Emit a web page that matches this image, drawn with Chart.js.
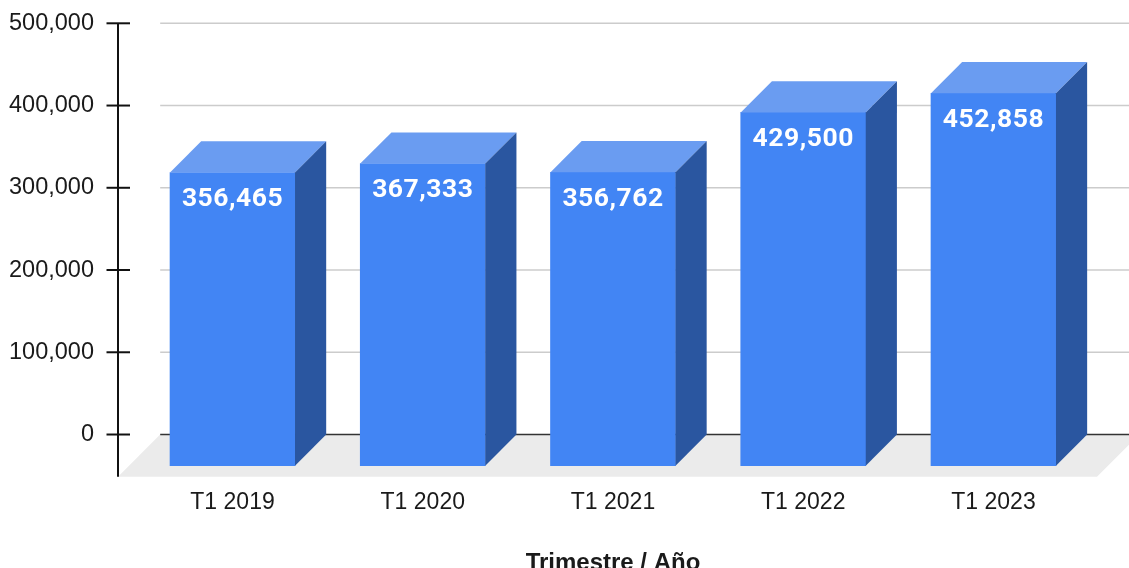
<!DOCTYPE html>
<html>
<head>
<meta charset="utf-8">
<script src="https://cdn.jsdelivr.net/npm/chart.js@4.4.0/dist/chart.umd.min.js"></script>
<style>
    html, body { margin: 0; padding: 0; background: #fff; width: 1129px; height: 568px; overflow: hidden; }
    #wrap { position: relative; width: 1129px; height: 600px; }
</style>
</head>
<body>
<div id="wrap"><canvas id="myChart"></canvas></div>
<script>
/* data */
const labels = ["T1 2019", "T1 2020", "T1 2021", "T1 2022", "T1 2023"];
const values = [356465, 367333, 356762, 429500, 452858];
const yTicks = [0, 100000, 200000, 300000, 400000, 500000];
const axisTitle = "Trimestre / Año";

/* 3d look */
const WALL_MIN = -51300;
const WALL_MAX = 500000;
const BAR_DEPTH = 37900; // box depth, in axis units
const AXIS_X = 118;
const FLOOR_RIGHT = 1097;
const FONT = "'Liberation Sans', Arial, sans-serif";

const frame3d = {
    id: "frame3d",
    beforeDatasetsDraw(chart) {
        const ctx = chart.ctx;
        const area = chart.chartArea;
        const yw = chart.scales.y;
        const y0 = yw.getPixelForValue(0);
        const floor = area.bottom - y0;
        const wallLeft = AXIS_X + floor;
        ctx.save();
        // floor
        ctx.fillStyle = "#ebebeb";
        ctx.beginPath();
        ctx.moveTo(AXIS_X, area.bottom);
        ctx.lineTo(FLOOR_RIGHT, area.bottom);
        ctx.lineTo(FLOOR_RIGHT + floor, y0);
        ctx.lineTo(wallLeft, y0);
        ctx.closePath();
        ctx.fill();
        // grid on the back wall + tick marks
        yTicks.forEach((v) => {
            const y = yw.getPixelForValue(v);
            ctx.strokeStyle = v === 0 ? "#333" : "#ccc";
            ctx.lineWidth = 1.5;
            ctx.beginPath();
            ctx.moveTo(wallLeft, y);
            ctx.lineTo(chart.width, y);
            ctx.stroke();
            ctx.strokeStyle = "#111";
            ctx.lineWidth = 2;
            ctx.beginPath();
            ctx.moveTo(AXIS_X - 11.5, y);
            ctx.lineTo(AXIS_X + 12, y);
            ctx.stroke();
        });
        // axis line
        ctx.beginPath();
        ctx.moveTo(AXIS_X, area.top);
        ctx.lineTo(AXIS_X, area.bottom);
        ctx.stroke();
        ctx.restore();
    },
    afterDatasetsDraw(chart) {
        const ctx = chart.ctx;
        const d = chart.scales.yFront.getPixelForValue(0) - chart.scales.y.getPixelForValue(0);
        const meta = chart.getDatasetMeta(0);
        ctx.save();
        meta.data.forEach((bar, i) => {
            const p = bar.getProps(["x", "y", "base", "width"], true);
            const l = p.x - p.width / 2;
            const r = p.x + p.width / 2;
            // top
            ctx.fillStyle = "#6a9cf1";
            ctx.beginPath();
            ctx.moveTo(l, p.y);
            ctx.lineTo(r, p.y);
            ctx.lineTo(r + d, p.y - d);
            ctx.lineTo(l + d, p.y - d);
            ctx.closePath();
            ctx.fill();
            // side
            ctx.fillStyle = "#2a56a0";
            ctx.beginPath();
            ctx.moveTo(r, p.y);
            ctx.lineTo(r + d, p.y - d);
            ctx.lineTo(r + d, p.base - d);
            ctx.lineTo(r, p.base);
            ctx.closePath();
            ctx.fill();
            // value
            ctx.fillStyle = "#fff";
            ctx.font = "bold 26.5px Roboto, 'Noto Sans', sans-serif";
            ctx.letterSpacing = "0.5px";
            ctx.textAlign = "center";
            ctx.textBaseline = "alphabetic";
            ctx.fillText(values[i].toLocaleString("en-US"), p.x, p.y + 33.5);
        });
        ctx.restore();
    },
};

const data = {
    labels: labels,
    datasets: [
        {
            data: values,
            yAxisID: "yFront",
            backgroundColor: "#4285f4",
            borderWidth: 0,
            barThickness: 125,
        },
    ],
};

const config = {
    type: "bar",
    data: data,
    options: {
        responsive: true,
        maintainAspectRatio: false,
        animation: false,
        devicePixelRatio: 1,
        layout: { padding: { top: 23.3, right: 40.4, left: 0, bottom: 0 } },
        plugins: {
            legend: { display: false },
            tooltip: { enabled: false },
        },
        scales: {
            x: {
                grid: { display: false, drawTicks: false },
                border: { display: false },
                ticks: { color: "#1a1a1a", font: { family: FONT, size: 23 }, padding: 12 },
                title: {
                    display: true,
                    text: axisTitle,
                    color: "#1a1a1a",
                    font: { family: FONT, size: 24, weight: "bold" },
                    padding: { top: 0, bottom: 22 },
                },
                afterFit(scale) {
                    scale.height = 123.3;
                },
            },
            y: {
                position: "left",
                min: WALL_MIN,
                max: WALL_MAX,
                grid: { display: false, drawTicks: false },
                border: { display: false },
                ticks: {
                    color: "#1a1a1a",
                    font: { family: FONT, size: 23.5 },
                    padding: 43.4,
                    callback: (v) => Number(v).toLocaleString("en-US"),
                },
                afterBuildTicks(scale) {
                    scale.ticks = yTicks.map((v) => ({ value: v }));
                },
                afterFit(scale) {
                    scale.width = 137.4;
                    scale.paddingTop = 0;
                    scale.paddingBottom = 0;
                },
            },
            yFront: {
                display: false,
                min: WALL_MIN + BAR_DEPTH,
                max: WALL_MAX + BAR_DEPTH,
            },
        },
    },
    plugins: [frame3d],
};

const myChart = new Chart(document.getElementById("myChart"), config);
</script>
</body>
</html>
